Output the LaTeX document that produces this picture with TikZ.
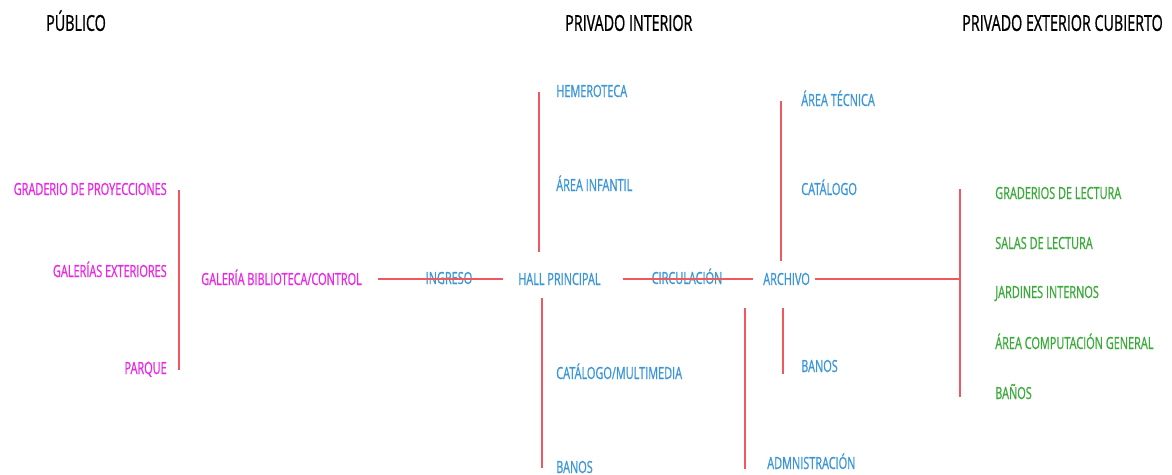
\documentclass[tikz,border=0pt]{standalone}
\usepackage{fontspec}
\setmainfont{Open Sans}[FakeStretch=0.65, FakeBold=0.8]
\usetikzlibrary{positioning}
\definecolor{rosa}{RGB}{232,40,228}
\definecolor{azul}{RGB}{58,150,215}
\definecolor{verde}{RGB}{58,170,58}
\definecolor{linea}{RGB}{240,88,95}
\tikzset{x=0.75pt, y=-0.75pt,
  zona/.style={inner sep=0pt, text height=9pt, text depth=0pt, font=\fontsize{12.6}{13}\selectfont},
  tit/.style={zona, text=black, text height=11.8pt, font=\fontsize{16.5}{17}\selectfont},
  pub/.style={zona, text=rosa},
  int/.style={zona, text=azul},
  ext/.style={zona, text=verde},
  lin/.style={draw=linea, line width=1.1pt}}
\begin{document}
\begin{tikzpicture}
\useasboundingbox (0,0) rectangle (1172,475);
\node[tit, anchor=west] (tpub) at (46,23) {PÚBLICO};
\node[tit, anchor=west] (tint) at (565,23) {PRIVADO INTERIOR};
\node[tit, anchor=west] (text) at (962,23) {PRIVADO EXTERIOR CUBIERTO};

\node[pub, anchor=east] (grad) at (167,189) {GRADERIO DE PROYECCIONES};
\node[pub, anchor=east] (gale) at (167,271) {GALERÍAS EXTERIORES};
\node[pub, anchor=east] (parq) at (167,368) {PARQUE};
\node[pub, anchor=west] (galb) at (201,279) {GALERÍA BIBLIOTECA/CONTROL};

\node[int] (ingr) at (449,278) {INGRESO};
\node[int, anchor=west] (hall) at (518,279) {HALL PRINCIPAL};
\node[int] (circ) at (687,278) {CIRCULACIÓN};
\node[int, anchor=west] (arch) at (763,279) {ARCHIVO};

\node[int, anchor=west] (heme) at (556,91) {HEMEROTECA};
\node[int, anchor=west] (infa) at (556,185) {ÁREA INFANTIL};
\node[int, anchor=west] (cmul) at (556,373) {CATÁLOGO/MULTIMEDIA};
\node[int, anchor=west] (ban1) at (556,467) {BANOS};
\node[int, anchor=west] (atec) at (801,100) {ÁREA TÉCNICA};
\node[int, anchor=west] (cata) at (801,189) {CATÁLOGO};
\node[int, anchor=west] (ban2) at (801,366) {BANOS};
\node[int, anchor=west] (admi) at (767,463) {ADMNISTRACIÓN};

\node[ext, anchor=west] (grle) at (995,193) {GRADERIOS DE LECTURA};
\node[ext, anchor=west] (sale) at (995,243) {SALAS DE LECTURA};
\node[ext, anchor=west] (jard) at (995,292) {JARDINES INTERNOS};
\node[ext, anchor=west] (comp) at (995,343) {ÁREA COMPUTACIÓN GENERAL};
\node[ext, anchor=west] (ban3) at (995,393) {BAÑOS};

\coordinate (p1) at (179,190);
\coordinate (p2) at (179,370);
\coordinate (h1) at (539,92);
\coordinate (h2) at (539,252);
\coordinate (h3) at (542,298);
\coordinate (h4) at (542,468);
\coordinate (a1) at (781,101);
\coordinate (a2) at (781,261);
\coordinate (a3) at (783,308);
\coordinate (a4) at (783,374);
\coordinate (d1) at (745,308);
\coordinate (d2) at (745,469);
\coordinate (e1) at (960,189);
\coordinate (e2) at (960,397);
\coordinate (e0) at (960,279);

\draw[lin] (p1) -- (p2);
\draw[lin] (h1) -- (h2);
\draw[lin] (h3) -- (h4);
\draw[lin] (a1) -- (a2);
\draw[lin] (a3) -- (a4);
\draw[lin] (d1) -- (d2);
\draw[lin] (e1) -- (e2);
\draw[lin, shorten <=12pt, shorten >=11pt] (galb.east) -- (hall.west);
\draw[lin, shorten <=17pt, shorten >=7.5pt] (hall.east) -- (arch.west);
\draw[lin, line width=1.6pt, shorten <=3.75pt] (arch.east) -- (e0);
\end{tikzpicture}
\end{document}
